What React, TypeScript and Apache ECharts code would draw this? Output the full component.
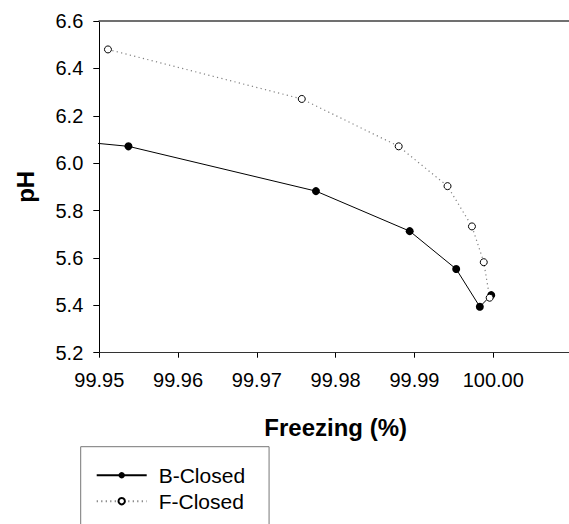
import React, { useEffect, useRef } from "react";
import * as echarts from "echarts";

// Freezing percentage (x) and pH (y) for the two closed treatments
const bClosedFreezing = [99.94, 99.9537, 99.9775, 99.9894, 99.9953, 99.9983, 99.99975];
const bClosedPH = [6.115, 6.071, 5.882, 5.713, 5.553, 5.394, 5.443];

const fClosedFreezing = [99.9511, 99.9757, 99.988, 99.9942, 99.9973, 99.9988, 99.99955];
const fClosedPH = [6.48, 6.271, 6.071, 5.903, 5.733, 5.582, 5.432];

const xTicks = { min: 99.95, max: 100.01, step: 0.01 };
const yTicks = { min: 5.2, max: 6.6, step: 0.2 };

const FONT = "'Liberation Sans', Arial, sans-serif";

// The canvas runs a little past the visible window on the right and bottom,
// so the x axis and the legend frame continue off the edge.
const WIDTH = 575;
const HEIGHT = 600;

export default function App() {
  const ref = useRef<HTMLDivElement>(null);

  useEffect(() => {
    if (!ref.current) return;
    const chart = echarts.init(ref.current, null, { renderer: "svg" });

    const pairs = (xs: number[], ys: number[]) => xs.map((x, i) => [x, ys[i]]);

    chart.setOption({
      animation: false,
      backgroundColor: "#ffffff",
      textStyle: { fontFamily: FONT },
      grid: { left: 99.3, top: 21, right: 0, bottom: HEIGHT - 352.7, containLabel: false },
      xAxis: [
        {
          type: "value",
          position: "bottom",
          min: xTicks.min,
          max: xTicks.max,
          interval: xTicks.step,
          name: "Freezing (%)",
          nameLocation: "middle",
          nameGap: 63,
          nameTextStyle: { fontFamily: FONT, fontSize: 24, fontWeight: "bold", color: "#000" },
          axisLine: { show: true, lineStyle: { color: "#333", width: 1 } },
          axisTick: { show: true, length: 5, lineStyle: { color: "#000" } },
          axisLabel: {
            margin: 17,
            fontFamily: FONT,
            fontSize: 20,
            color: "#000",
            formatter: (v: number) => (v > 100.005 ? "" : v.toFixed(2)),
          },
          splitLine: { show: false },
        },
        {
          type: "value",
          position: "top",
          min: xTicks.min,
          max: xTicks.max,
          axisLine: { show: true, lineStyle: { color: "#707070", width: 2 } },
          axisTick: { show: false },
          axisLabel: { show: false },
          splitLine: { show: false },
        },
      ],
      yAxis: {
        type: "value",
        min: yTicks.min,
        max: yTicks.max,
        interval: yTicks.step,
        name: "pH",
        nameLocation: "middle",
        nameRotate: 90,
        nameGap: 62,
        nameTextStyle: { fontFamily: FONT, fontSize: 24, fontWeight: "bold", color: "#000" },
        axisLine: { show: true, lineStyle: { color: "#000", width: 1 } },
        axisTick: { show: true, length: 6, lineStyle: { color: "#000" } },
        axisLabel: {
          margin: 16,
          fontFamily: FONT,
          fontSize: 20,
          color: "#000",
          formatter: (v: number) => v.toFixed(1),
        },
        splitLine: { show: false },
      },
      legend: {
        orient: "vertical",
        left: 80.7,
        top: 446.7,
        padding: [18, 24, 40, 15],
        itemWidth: 50,
        itemHeight: 8,
        itemGap: 5,
        borderColor: "#777",
        borderWidth: 1,
        backgroundColor: "#fff",
        textStyle: { fontFamily: FONT, fontSize: 21, color: "#000", padding: [0, 0, 0, 7] },
        data: ["B-Closed", "F-Closed"],
      },
      series: [
        {
          name: "B-Closed",
          type: "line",
          clip: true,
          data: pairs(bClosedFreezing, bClosedPH),
          symbol: "circle",
          symbolSize: 8,
          showAllSymbol: true,
          lineStyle: { color: "#000", width: 1 },
          itemStyle: { color: "#000", borderColor: "#000", borderWidth: 0 },
        },
        {
          name: "F-Closed",
          type: "line",
          clip: true,
          data: pairs(fClosedFreezing, fClosedPH),
          symbol: "circle",
          symbolSize: 7,
          showAllSymbol: true,
          lineStyle: { color: "#808080", width: 1.2, type: [1.2, 3.3] },
          itemStyle: { color: "#fff", borderColor: "#000", borderWidth: 1 },
        },
      ],
    });

    return () => chart.dispose();
  }, []);

  return (
    <div
      ref={ref}
      style={{ position: "fixed", left: 0, top: 0, width: WIDTH, height: HEIGHT, background: "#fff" }}
    />
  );
}
